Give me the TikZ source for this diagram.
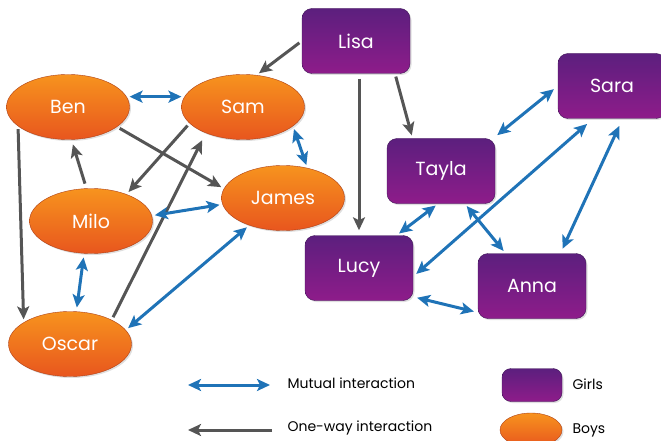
\documentclass[tikz,border=0pt]{standalone}
\usepackage{fontspec}
\setmainfont{Poppins}
\usetikzlibrary{arrows.meta}
\usetikzlibrary{shapes}
\usetikzlibrary{shadows}
\definecolor{boytop}{HTML}{F7931E}
\definecolor{boybottom}{HTML}{E8561E}
\definecolor{girltop}{HTML}{5C1F7E}
\definecolor{girlbottom}{HTML}{8E1C8A}
\definecolor{mutualblue}{HTML}{1F73B7}
\definecolor{onewaygrey}{HTML}{555555}

\begin{document}
\begin{tikzpicture}[x=1pt, y=-1pt]
    \tikzset{boy/.style={ellipse, draw=boybottom!75!black, thin, top color=boytop, bottom color=boybottom, minimum width=123pt, minimum height=65pt, inner sep=0pt, text=white, font=\fontsize{19}{22}\selectfont, drop shadow={opacity=0.25, shadow xshift=1.5pt, shadow yshift=-1.5pt}}}
    \tikzset{girl/.style={rectangle, rounded corners=10pt, draw=girltop!70!black, thin, top color=girltop, bottom color=girlbottom, minimum width=108pt, minimum height=65pt, inner sep=0pt, text=white, font=\fontsize{19}{22}\selectfont, drop shadow={opacity=0.25, shadow xshift=1.5pt, shadow yshift=-1.5pt}}}
    \tikzset{oneway/.style={draw=onewaygrey, line width=3pt, -{Stealth[length=13pt, width=12pt, inset=3pt]}, shorten >=3pt, shorten <=3pt}}
    \tikzset{mutual/.style={draw=mutualblue, line width=3pt, {Stealth[length=13pt, width=12pt, inset=3pt]}-{Stealth[length=13pt, width=12pt, inset=3pt]}, shorten >=3pt, shorten <=3pt}}
    \tikzset{legend/.style={anchor=west, text=black, font=\fontsize{14}{16}\selectfont}}
    \useasboundingbox (0,0) rectangle (661,441);
    \node[boy] (ben) at (68,107) {Ben};
    \node[boy] (sam) at (243,107) {Sam};
    \node[boy] (james) at (283,198) {James};
    \node[boy] (milo) at (91,221) {Milo};
    \node[boy] (oscar) at (70,344) {Oscar};
    \node[girl] (lisa) at (356,41) {Lisa};
    \node[girl] (sara) at (612,86) {Sara};
    \node[girl] (tayla) at (441,171) {Tayla};
    \node[girl] (lucy) at (359,268) {Lucy};
    \node[girl] (anna) at (532,286) {Anna};
    \draw[oneway] (lisa.west) -- (sam.67);
    \draw[oneway, shorten <=5pt, shorten >=5pt] (lisa.south -| lucy.north) -- (lucy.north);
    \draw[oneway] (lisa.-40) -- (tayla.131);
    \draw[oneway] (ben.201) -- (oscar.155);
    \draw[oneway] (ben.-22) -- (james.171);
    \draw[oneway] (sam.197) -- (milo.37);
    \draw[oneway, shorten <=5pt, shorten >=5pt] (milo.98) -- (ben.276);
    \draw[oneway, shorten >=8pt] (oscar.30) -- (sam.215);
    \draw[mutual] (ben.10) -- (sam.170);
    \draw[mutual] (sam.-21) -- (james.51);
    \draw[mutual] (milo.5) -- (james.186);
    \draw[mutual, shorten <=4pt, shorten >=4pt] (milo.258) -- (oscar.79);
    \draw[mutual] (oscar.14) -- (james.219);
    \draw[mutual] (tayla.265) -- (lucy.41);
    \draw[mutual] (tayla.-54) -- (anna.129);
    \draw[mutual, shorten <=5pt, shorten >=5pt] (tayla.32) -- (sara.west);
    \draw[mutual, shorten <=4pt, shorten >=8pt] (lucy.-9) -- (sara.240);
    \draw[mutual, shorten <=8pt, shorten >=5pt] (sara.-72) -- (anna.49);
    \draw[mutual, shorten <=4pt, shorten >=4pt] (lucy.-28) -- (anna.206);
    \coordinate (mutualleft) at (188,385);
    \coordinate (mutualright) at (270,385);
    \draw[mutual, shorten <=0pt, shorten >=0pt] (mutualleft) -- (mutualright);
    \node[legend] (mutuallabel) at (284,383) {Mutual interaction};
    \coordinate (onewayright) at (272,430);
    \coordinate (onewayleft) at (188,430);
    \draw[oneway, shorten <=0pt, shorten >=0pt] (onewayright) -- (onewayleft);
    \node[legend] (onewaylabel) at (284,428) {One-way interaction};
    \node[girl, minimum width=60pt, minimum height=33pt, rounded corners=9pt] (girlkey) at (532,385) {};
    \node[legend] (girllabel) at (569,384) {Girls};
    \node[boy, minimum width=62pt, minimum height=34pt] (boykey) at (531,430) {};
    \node[legend] (boylabel) at (569,430) {Boys};
\end{tikzpicture}
\end{document}
